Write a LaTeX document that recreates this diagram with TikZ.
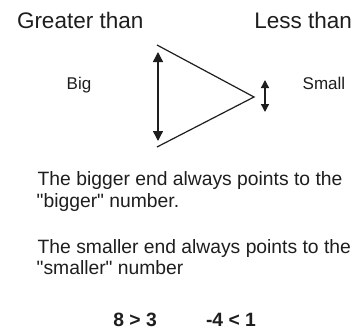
\documentclass[tikz,border=0pt]{standalone}
\usepackage{fontspec}
\setmainfont{Liberation Sans}[Ligatures=TeXOff]
\usetikzlibrary{arrows.meta}
\definecolor{ink}{HTML}{1E1E1E}
\tikzset{
  lbl/.style={inner sep=0pt, outer sep=0pt, text=ink},
  head/.style={lbl, font=\fontsize{22.5}{27}\selectfont},
  side/.style={lbl, font=\fontsize{17}{20}\selectfont},
  body/.style={lbl, font=\fontsize{19.3}{23}\selectfont},
  nums/.style={lbl, font=\fontsize{19.3}{23}\selectfont\bfseries},
  edge/.style={draw=ink, line width=1.2pt},
  bigarrow/.style={draw=ink, line width=1.4pt, {Triangle[length=10pt,width=10pt]}-{Triangle[length=10pt,width=10pt]}},
  smallarrow/.style={draw=ink, line width=1.4pt, {Triangle[length=8pt,width=8pt]}-{Triangle[length=8pt,width=8pt]}}
}
\begin{document}
\begin{tikzpicture}[x=1pt,y=-1pt]
\useasboundingbox (0,0) rectangle (362,332);
\fill[white] (0,0) rectangle (362,332);
% headings
\node[head, anchor=base west] (gt) at (17,28.3) {Greater than};
\node[head, anchor=base east] (lt) at (352,28.3) {Less than};
\node[side, anchor=base west] (big) at (66.7,89) {Big};
\node[side, anchor=base west] (small) at (302.7,89) {Small};
% triangle
\coordinate (tv) at (157,45);
\coordinate (ap) at (254,97);
\coordinate (bv) at (157,147);
\draw[edge] (tv) -- (ap) -- (bv);
% arrows
\coordinate (bt) at (158,52);
\coordinate (bb) at (158,141);
\draw[bigarrow] (bt) -- (bb);
\coordinate (st) at (265,80);
\coordinate (sb) at (265,112);
\draw[smallarrow] (st) -- (sb);
% text
\node[body, anchor=base west] (l1) at (37.7,185) {The bigger end always points to the};
\node[body, anchor=base west] (l2) at (36.7,207) {"bigger" number.};
\node[body, anchor=base west] (l3) at (37.7,253) {The smaller end always points to the};
\node[body, anchor=base west] (l4) at (36.7,274) {"smaller" number};
\node[nums, anchor=base west] (n1) at (113.3,326.7) {8 > 3};
\node[nums, anchor=base west] (n2) at (206,326.7) {-4 < 1};
\end{tikzpicture}
\end{document}
